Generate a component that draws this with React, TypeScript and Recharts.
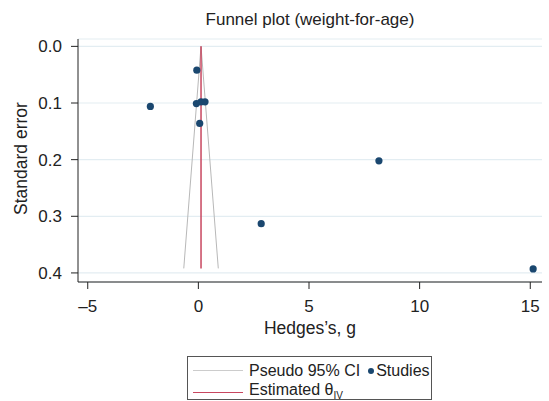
import { ComposedChart, Scatter, XAxis, YAxis, CartesianGrid } from 'recharts'

// studies: effect size (Hedges's g) and its standard error
const hedgesG = [-0.07, -2.17, -0.09, 0.12, 0.3, 0.06, 8.16, 2.84, 15.13]
const stdErr = [0.042, 0.106, 0.101, 0.098, 0.098, 0.136, 0.202, 0.313, 0.393]

// pseudo 95% CI funnel and pooled estimate
const funnelX = [-0.66, 0.12, 0.9]
const funnelSe = [0.392, 0, 0.392]
const thetaX = [0.12, 0.12]
const thetaSe = [0, 0.392]

const xTicks = [-5, 0, 5, 10, 15]
const yTicks = [0, 0.1, 0.2, 0.3, 0.4]

const studies = hedgesG.map((g, i) => ({ x: g, y: stdErr[i] }))
const funnel = funnelX.map((x, i) => ({ x, y: funnelSe[i] }))
const theta = thetaX.map((x, i) => ({ x, y: thetaSe[i] }))

const FONT = 'Liberation Sans, Arial, Helvetica, sans-serif'
const NAVY = '#1a476f'
const RED = '#c8475f'
const GREY = '#b8b8b8'
const INK = '#222'

const fmtX = (v: number) => (v < 0 ? `\u2013${Math.abs(v)}` : `${v}`)

export default function App() {
  return (
    <div style={{ position: 'absolute', left: 0, top: 0, width: 549, height: 401, background: '#fff', fontFamily: FONT }}>
      <div style={{ position: 'absolute', left: 78, width: 464, top: 10, textAlign: 'center', fontSize: 17, color: INK, lineHeight: '20px' }}>
        Funnel plot (weight-for-age)
      </div>
      <ComposedChart width={549} height={401} margin={{ top: 39, right: 7, bottom: 79, left: 0 }}>
        <CartesianGrid horizontal vertical={false} stroke="#e3edf2" strokeWidth={1.2} />
        <XAxis
          type="number"
          dataKey="x"
          domain={[-5.44, 15.53]}
          ticks={xTicks}
          tickFormatter={fmtX}
          allowDataOverflow
          height={40}
          stroke={INK}
          tickSize={7}
          tickMargin={11}
          tick={{ fill: INK, fontSize: 17, fontFamily: FONT }}
          label={{ value: 'Hedges\u2019s, g', position: 'insideBottom', offset: -12, fill: INK, fontSize: 17.5, fontFamily: FONT }}
        />
        <YAxis
          type="number"
          dataKey="y"
          reversed
          domain={[-0.013, 0.416]}
          ticks={yTicks}
          tickFormatter={(v: number) => v.toFixed(1)}
          allowDataOverflow
          width={78}
          stroke={INK}
          tickSize={7}
          tickMargin={9}
          tick={{ fill: INK, fontSize: 17, fontFamily: FONT }}
          label={({ viewBox }: any) => (
            <text
              x={21}
              y={viewBox.y + viewBox.height / 2 - 2}
              transform={`rotate(-90 21 ${viewBox.y + viewBox.height / 2 - 2})`}
              textAnchor="middle"
              dominantBaseline="central"
              fill={INK}
              fontSize={17.5}
              fontFamily={FONT}
            >
              Standard error
            </text>
          )}
        />
        <Scatter data={funnel} line={{ stroke: GREY, strokeWidth: 1 }} shape={() => null} isAnimationActive={false} />
        <Scatter data={theta} line={{ stroke: RED, strokeWidth: 1.5 }} shape={() => null} isAnimationActive={false} />
        <Scatter data={studies} fill={NAVY} shape={(p: any) => <circle cx={p.cx} cy={p.cy} r={3.6} fill={NAVY} />} isAnimationActive={false} />
      </ComposedChart>
      <div
        style={{
          position: 'absolute',
          left: 187,
          top: 356,
          width: 243,
          height: 38,
          border: '1px solid #555',
          fontSize: 16,
          color: INK,
          lineHeight: '19px',
          paddingTop: 4,
          boxSizing: 'content-box',
        }}
      >
        <div style={{ display: 'flex', alignItems: 'center', whiteSpace: 'nowrap' }}>
          <span style={{ display: 'inline-block', width: 50, height: 1, background: '#ccc', marginLeft: 5, marginRight: 6 }} />
          <span>Pseudo 95% CI</span>
          <span style={{ display: 'inline-block', width: 6, height: 6, borderRadius: 3, background: NAVY, marginLeft: 8, marginRight: 2 }} />
          <span>Studies</span>
        </div>
        <div style={{ display: 'flex', alignItems: 'center', whiteSpace: 'nowrap' }}>
          <span style={{ display: 'inline-block', width: 50, height: 1.5, background: RED, marginLeft: 5, marginRight: 6 }} />
          <span>
            Estimated {'\u03b8'}
            <sub style={{ fontSize: 10 }}>IV</sub>
          </span>
        </div>
      </div>
    </div>
  )
}
